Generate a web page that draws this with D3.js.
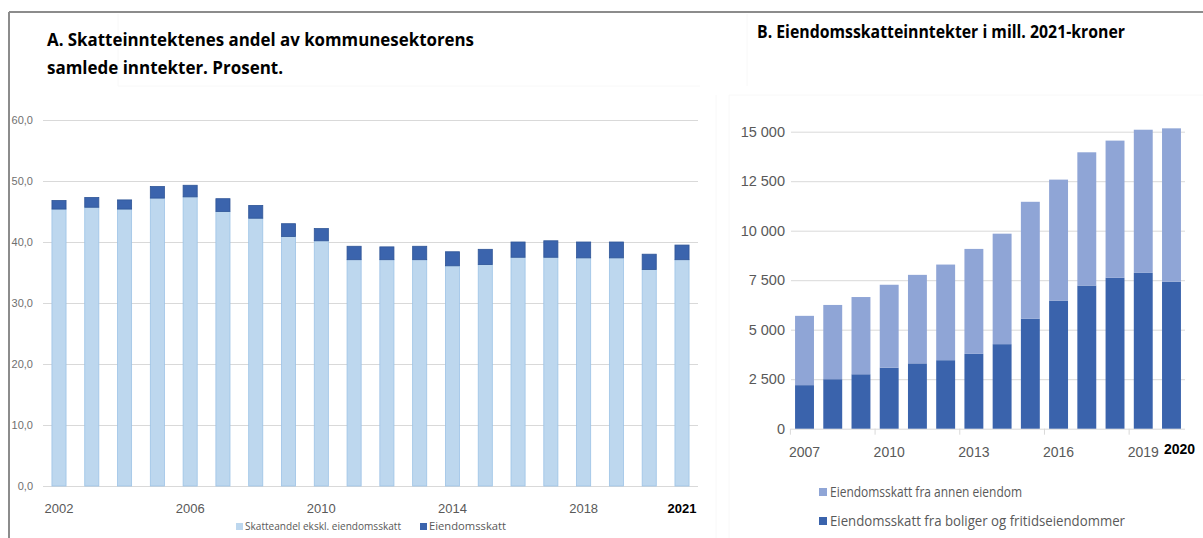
<!DOCTYPE html>
<html>
<head>
<meta charset="utf-8">
<script src="https://cdn.jsdelivr.net/npm/d3@7"></script>
<style>
  body { margin: 0; background: #fff; }
  svg { display: block; font-family: "Open Sans", "Noto Sans", sans-serif; }
  .tick line { stroke: #d9d9d9; }
  .domain { display: none; }
</style>
</head>
<body>
<div id="chart"></div>
<script>
// Panel A: share of tax income in total income, percent
let yearsA = ["2002","2003","2004","2005","2006","2007","2008","2009","2010","2011",
              "2012","2013","2014","2015","2016","2017","2018","2019","2020","2021"];
let skatteEkskl = [45.4,45.7,45.4,47.2,47.4,45.0,43.9,40.9,40.2,37.1,
                   37.1,37.1,36.1,36.3,37.5,37.5,37.4,37.4,35.5,37.1];
let eiendomsskatt = [1.4,1.6,1.5,1.9,1.9,2.1,2.1,2.1,2.0,2.2,
                     2.1,2.2,2.3,2.5,2.5,2.7,2.6,2.6,2.5,2.4];
let ticksA = [0,10,20,30,40,50,60];
let labelYearsA = ["2002","2006","2010","2014","2018","2021"];

// Panel B: property tax income, mill. 2021-kroner
let yearsB = ["2007","2008","2009","2010","2011","2012","2013",
              "2014","2015","2016","2017","2018","2019","2020"];
let boliger = [2200,2500,2750,3080,3300,3460,3780,4270,5560,6470,7230,7620,7870,7420];
let annen = [3500,3750,3900,4190,4470,4830,5300,5580,5900,6110,6730,6930,7230,7750];
let ticksB = [0,2500,5000,7500,10000,12500,15000];
let labelYearsB = ["2007","2010","2013","2016","2019","2020"];

let svgWidth = 1203;
let svgHeight = 538;

let svg = d3.select("#chart")
  .append("svg")
  .attr("width", svgWidth)
  .attr("height", svgHeight);

// faint panel edges
let faint = [[118, 14, 118, 86], [118, 86, 700, 86], [747, 14, 747, 86],
             [716, 95, 716, 538], [729, 95, 729, 538], [729, 95, 1203, 95]];
svg.selectAll("line.faint")
  .data(faint)
  .enter()
  .append("line")
  .attr("x1", d => d[0]).attr("y1", d => d[1])
  .attr("x2", d => d[2]).attr("y2", d => d[3])
  .attr("stroke", "#f8f8f8")
  .attr("stroke-width", 1);

// frame
svg.append("line")
  .attr("x1", 9).attr("y1", 12).attr("x2", svgWidth).attr("y2", 12)
  .attr("stroke", "#8c8c8c").attr("stroke-width", 2);
svg.append("line")
  .attr("x1", 9).attr("y1", 12).attr("x2", 9).attr("y2", svgHeight)
  .attr("stroke", "#8c8c8c").attr("stroke-width", 2);

function fitText(sel, w) {
  sel.attr("textLength", w).attr("lengthAdjust", "spacingAndGlyphs");
}

// ---------- Panel A ----------
let xA = d3.scaleBand()
  .domain(yearsA)
  .range([42.6, 698.4])
  .paddingInner(0.57)
  .paddingOuter(0.285);

let yA = d3.scaleLinear()
  .domain([0, 60])
  .range([486, 120]);

svg.append("text")
  .attr("x", 47).attr("y", 46)
  .attr("font-size", 18).attr("font-weight", "bold").attr("fill", "#000")
  .text("A. Skatteinntektenes andel av kommunesektorens")
  .call(fitText, 427);
svg.append("text")
  .attr("x", 47).attr("y", 74)
  .attr("font-size", 18).attr("font-weight", "bold").attr("fill", "#000")
  .text("samlede inntekter. Prosent.")
  .call(fitText, 236);

let yAxisA = svg.append("g")
  .attr("transform", "translate(43,0)")
  .call(d3.axisLeft(yA)
    .tickValues(ticksA)
    .tickSize(-655)
    .tickPadding(10)
    .tickFormat(d => d3.format(".1f")(d).replace(".", ",")));
yAxisA.selectAll("text")
  .attr("font-size", 11)
  .attr("fill", "#6f6f6f");

let dataA = yearsA.map((y, i) => ({ year: y, ekskl: skatteEkskl[i], eiendom: eiendomsskatt[i] }));
let stackA = d3.stack().keys(["ekskl", "eiendom"])(dataA);
let colorsA = { ekskl: "#bdd7ee", eiendom: "#3b64ad" };
let strokeA = { ekskl: "#9dc3e6", eiendom: "#2f5597" };

svg.append("g")
  .selectAll("g")
  .data(stackA)
  .enter()
  .append("g")
  .attr("fill", d => colorsA[d.key])
  .attr("stroke", d => strokeA[d.key])
  .attr("stroke-width", 0.8)
  .selectAll("rect")
  .data(d => d)
  .enter()
  .append("rect")
  .attr("x", d => xA(d.data.year))
  .attr("y", d => yA(d[1]))
  .attr("width", xA.bandwidth())
  .attr("height", d => yA(d[0]) - yA(d[1]));

let xAxisA = svg.append("g")
  .attr("transform", "translate(0,486)")
  .call(d3.axisBottom(xA).tickValues(labelYearsA).tickSize(0).tickPadding(18));
xAxisA.selectAll("text")
  .attr("font-size", 13)
  .attr("fill", d => d === "2021" ? "#000" : "#595959")
  .attr("font-weight", d => d === "2021" ? "bold" : "normal");

let legendA = [
  { label: "Skatteandel ekskl. eiendomsskatt", color: "#bdd7ee", x: 236, w: 156 },
  { label: "Eiendomsskatt", color: "#3b64ad", x: 420, w: 77 }
];
let legA = svg.append("g").selectAll("g")
  .data(legendA)
  .enter()
  .append("g");
legA.append("rect")
  .attr("x", d => d.x).attr("y", 523)
  .attr("width", 7).attr("height", 7)
  .attr("fill", d => d.color);
legA.append("text")
  .attr("x", d => d.x + 9).attr("y", 530)
  .attr("font-size", 10.5)
  .attr("fill", "#595959")
  .text(d => d.label)
  .each(function(d) { d3.select(this).call(fitText, d.w); });

// ---------- Panel B ----------
let xB = d3.scaleBand()
  .domain(yearsB)
  .range([790.4, 1185.6])
  .paddingInner(0.33)
  .paddingOuter(0.165);

let yB = d3.scaleLinear()
  .domain([0, 15000])
  .range([428.7, 131.7]);

svg.append("text")
  .attr("x", 757).attr("y", 38)
  .attr("font-size", 17).attr("font-weight", "bold").attr("fill", "#000")
  .text("B. Eiendomsskatteinntekter i mill. 2021-kroner")
  .call(fitText, 368);

let yAxisB = svg.append("g")
  .attr("transform", "translate(791,0)")
  .call(d3.axisLeft(yB)
    .tickValues(ticksB)
    .tickSize(-394)
    .tickPadding(6)
    .tickFormat(d => d3.format(",")(d).replace(",", " ")));
yAxisB.selectAll("text")
  .attr("font-size", 14.5)
  .attr("fill", "#595959");

let dataB = yearsB.map((y, i) => ({ year: y, boliger: boliger[i], annen: annen[i] }));
let stackB = d3.stack().keys(["boliger", "annen"])(dataB);
let colorsB = { boliger: "#3a63ac", annen: "#8fa5d6" };

svg.append("g")
  .selectAll("g")
  .data(stackB)
  .enter()
  .append("g")
  .attr("fill", d => colorsB[d.key])
  .selectAll("rect")
  .data(d => d)
  .enter()
  .append("rect")
  .attr("x", d => xB(d.data.year))
  .attr("y", d => yB(d[1]))
  .attr("width", xB.bandwidth())
  .attr("height", d => yB(d[0]) - yB(d[1]));

// category boundary ticks every third year
let stepB = xB.step();
let boundaryYears = ["2007", "2010", "2013", "2016", "2019"];
svg.append("g")
  .selectAll("line")
  .data(boundaryYears)
  .enter()
  .append("line")
  .attr("x1", d => xB(d) - stepB * 0.165)
  .attr("x2", d => xB(d) - stepB * 0.165)
  .attr("y1", yB(0))
  .attr("y2", yB(0) + 6)
  .attr("stroke", "#d9d9d9");

let xAxisB = svg.append("g")
  .attr("transform", `translate(0,${yB(0)})`)
  .call(d3.axisBottom(xB).tickValues(labelYearsB).tickSize(0).tickPadding(18));
xAxisB.selectAll("text")
  .attr("font-size", 14)
  .attr("fill", d => d === "2020" ? "#000" : "#595959")
  .attr("font-weight", d => d === "2020" ? "bold" : "normal")
  .attr("dx", d => d === "2020" ? 8 : 0)
  .attr("dy", d => d === "2020" ? "0.5em" : "0.71em");

let legendB = [
  { label: "Eiendomsskatt fra annen eiendom", color: "#8fa5d6", y: 492, w: 192 },
  { label: "Eiendomsskatt fra boliger og fritidseiendommer", color: "#3a63ac", y: 521, w: 295 }
];
let legB = svg.append("g").selectAll("g")
  .data(legendB)
  .enter()
  .append("g");
legB.append("rect")
  .attr("x", 819).attr("y", d => d.y - 4)
  .attr("width", 8).attr("height", 8)
  .attr("fill", d => d.color);
legB.append("text")
  .attr("x", 830).attr("y", d => d.y + 5)
  .attr("font-size", 14)
  .attr("fill", "#595959")
  .text(d => d.label)
  .each(function(d) { d3.select(this).call(fitText, d.w); });
</script>
</body>
</html>
